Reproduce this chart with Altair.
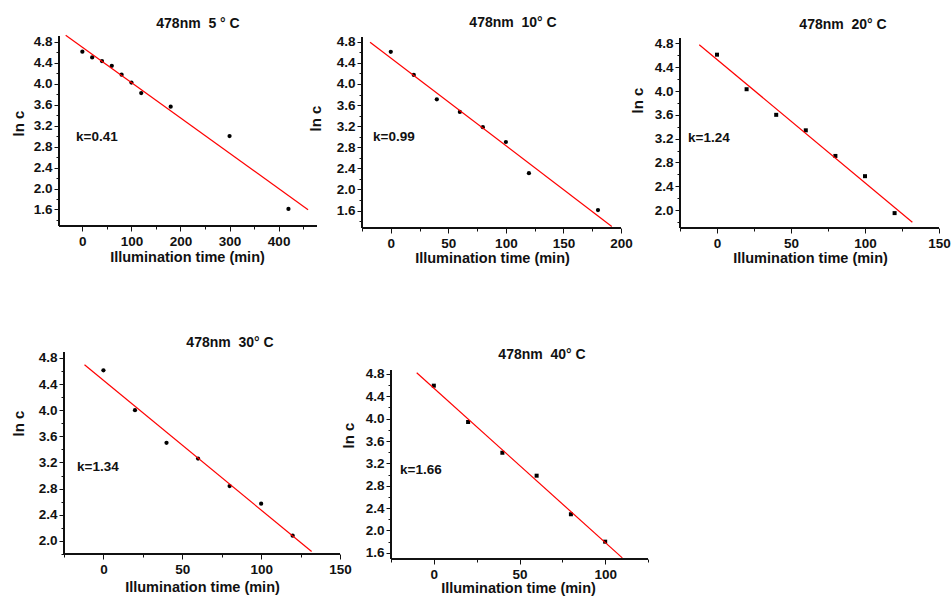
import math
import altair as alt
import pandas as pd

FONT = "Liberation Sans"
INK = "#111111"

# Illumination time (min) and ln c readings for each temperature
t_5c = [0, 20, 40, 60, 80, 100, 120, 180, 300, 420]
lnc_5c = [4.61, 4.50, 4.43, 4.34, 4.17, 4.02, 3.82, 3.56, 3.00, 1.61]

t_10c = [0, 20, 40, 60, 80, 100, 120, 180]
lnc_10c = [4.61, 4.17, 3.71, 3.47, 3.18, 2.90, 2.31, 1.61]

t_20c = [0, 20, 40, 60, 80, 100, 120]
lnc_20c = [4.61, 4.03, 3.60, 3.34, 2.91, 2.57, 1.95]

t_30c = [0, 20, 40, 60, 80, 100, 120]
lnc_30c = [4.61, 4.00, 3.50, 3.26, 2.84, 2.57, 2.08]

t_40c = [0, 20, 40, 60, 80, 100]
lnc_40c = [4.59, 3.94, 3.39, 2.98, 2.29, 1.80]

panel_titles = [
    "478nm\u00a0\u00a05 ° C",
    "478nm\u00a0\u00a010° C",
    "478nm\u00a0\u00a020° C",
    "478nm\u00a0\u00a030° C",
    "478nm\u00a0\u00a040° C",
]
k_labels = ["k=0.41", "k=0.99", "k=1.24", "k=1.34", "k=1.66"]

X_TITLE = "Illumination time (min)"
Y_TITLE = "ln c"

# Page origin of the first panel's plot area (grid origin)
ORIGIN = (59, 36)


def tick_values(lo, hi, step):
    """All tick positions (major and minor) inside [lo, hi]."""
    first = math.ceil(lo / step - 1e-6)
    last = math.floor(hi / step + 1e-6)
    return [round(i * step, 4) for i in range(first, last + 1)]


def panel(times, lnc, title, k_text, cfg):
    df = pd.DataFrame({"t": times, "lnc": lnc})
    L, T, R, B = cfg["box"]          # axis frame on the page
    cL, cT, cR, cB = cfg["cell"]     # plot cell on the page
    xr0, xr1 = cfg["xr"]
    yr0, yr1 = cfg["yr"]
    kx = (R - L) / (xr1 - xr0)
    ky = (B - T) / (yr1 - yr0)
    xdom = [xr0 - (L - cL) / kx, xr1 + (cR - R) / kx]
    ydom = [yr0 - (cB - B) / ky, yr1 + (T - cT) / ky]

    xmaj = cfg["xmajor"]
    x_major_test = f"round(datum.value) % {xmaj} == 0"
    y_major_test = "round(datum.value * 10) % 4 == 0"

    x_axis = alt.Axis(
        values=tick_values(xr0, xr1, xmaj / 2),
        tickCount=100,
        labelExpr=f"{x_major_test} ? format(datum.value, 'd') : ''",
        tickSize={"condition": {"test": x_major_test, "value": 5}, "value": 3},
        grid=False, domain=False,
        offset=-(cB - B),
        title=X_TITLE,
        labelFont=FONT, labelFontSize=13.5, labelFontWeight="bold", labelColor=INK,
        labelPadding=3, labelOverlap=False, labelFlush=False,
        titleFont=FONT, titleFontSize=14.5, titleFontWeight="bold", titleColor=INK,
        titleAlign="center", titleBaseline="middle",
        titleX=cfg["xtitle"][0] - cL, titleY=cfg["xtitle"][1] - B,
        tickColor=INK, tickWidth=1,
    )
    y_axis = alt.Axis(
        values=tick_values(yr0, yr1, 0.2),
        tickCount=100,
        labelExpr=f"{y_major_test} ? format(datum.value, '.1f') : ''",
        tickSize={"condition": {"test": y_major_test, "value": 5}, "value": 3},
        grid=False, domain=False,
        offset=-(L - cL),
        title=Y_TITLE,
        labelFont=FONT, labelFontSize=13.5, labelFontWeight="bold", labelColor=INK,
        labelPadding=2, labelOverlap=False, labelFlush=False,
        titleFont=FONT, titleFontSize=15, titleFontWeight="bold", titleColor=INK,
        titleAngle=270, titleAlign="center", titleBaseline="middle",
        titleX=cfg["ytitle"][0] - L, titleY=cfg["ytitle"][1] - cT,
        tickColor=INK, tickWidth=1,
    )
    x = alt.X("t:Q", scale=alt.Scale(domain=xdom, nice=False, zero=False), axis=x_axis)
    y = alt.Y("lnc:Q", scale=alt.Scale(domain=ydom, nice=False, zero=False), axis=y_axis)

    base = alt.Chart(df)
    # axis lines spanning the data frame only
    x_line = base.mark_rule(color=INK, strokeWidth=1.2).encode(
        x=alt.datum(xr0), x2=alt.datum(xr1), y=alt.datum(yr0)
    )
    y_line = base.mark_rule(color=INK, strokeWidth=1.2).encode(
        x=alt.datum(xr0), y=alt.datum(yr0), y2=alt.datum(yr1)
    )
    points = base.mark_point(
        filled=True, shape=cfg["shape"], size=cfg["size"], color="black", opacity=1
    ).encode(x=x, y=y)
    fit = base.transform_regression(
        "t", "lnc", method="linear", extent=cfg["extent"]
    ).mark_line(color="#ff0000", strokeWidth=1.2).encode(x=x, y=y)
    k_mark = alt.Chart(pd.DataFrame({"label": [k_text]})).mark_text(
        align="left", baseline="middle", font=FONT, fontSize=13.5,
        fontWeight="bold", color=INK,
    ).encode(
        text="label:N",
        x=alt.value(cfg["kpos"][0] - cL),
        y=alt.value(cfg["kpos"][1] - cT),
    )

    return alt.layer(points, fit, x_line, y_line, k_mark).properties(
        width=cR - cL, height=cB - cT,
        title=alt.TitleParams(
            title, font=FONT, fontSize=14, fontWeight="bold", color=INK,
            anchor="middle", frame="group", baseline="middle",
            dx=cfg["title"][0] - (cL + cR) / 2, offset=cfg["title_off"],
        ),
    )


cfg_5 = dict(box=(59, 36, 317, 226), cell=(59, 36, 317, 226),
             xr=[-47.6, 478.2], yr=[1.285, 4.909], xmajor=100,
             extent=[-34, 460], shape="circle", size=18,
             title=(198, 23), title_off=-5, ytitle=(18, 123), xtitle=(187, 257),
             kpos=(76, 137))
cfg_10 = dict(box=(362, 37, 621, 228), cell=(362, 36, 658, 228),
              xr=[-25, 200], yr=[1.27, 4.89], xmajor=50,
              extent=[-18, 192], shape="circle", size=18,
              title=(513, 23), title_off=-2, ytitle=(315, 118), xtitle=(492, 258),
              kpos=(373, 137))
cfg_20 = dict(box=(680, 38, 939, 228), cell=(680, 36, 939, 228),
              xr=[-25, 150], yr=[1.70, 4.89], xmajor=50,
              extent=[-12, 132], shape="square", size=16,
              title=(843, 24), title_off=-3, ytitle=(637, 100), xtitle=(810, 258),
              kpos=(688, 138))
cfg_30 = dict(box=(64, 352, 340, 554), cell=(59, 352, 340, 554),
              xr=[-25, 150], yr=[1.80, 4.89], xmajor=50,
              extent=[-12, 132], shape="circle", size=18,
              title=(230, 342), title_off=-6, ytitle=(18, 423), xtitle=(202, 587),
              kpos=(77, 467))
cfg_40 = dict(box=(391, 370, 648, 559), cell=(362, 352, 648, 559),
              xr=[-25, 125], yr=[1.49, 4.87], xmajor=50,
              extent=[-10, 110], shape="square", size=16,
              title=(542, 354), title_off=-17, ytitle=(348, 435), xtitle=(518, 588),
              kpos=(400, 470))

panels = [
    panel(t_5c, lnc_5c, panel_titles[0], k_labels[0], cfg_5),
    panel(t_10c, lnc_10c, panel_titles[1], k_labels[1], cfg_10),
    panel(t_20c, lnc_20c, panel_titles[2], k_labels[2], cfg_20),
    panel(t_30c, lnc_30c, panel_titles[3], k_labels[3], cfg_30),
    panel(t_40c, lnc_40c, panel_titles[4], k_labels[4], cfg_40),
]

chart = alt.concat(
    *panels, columns=3, bounds="flush", align="none",
    spacing={"row": 124, "column": 22},
).properties(
    autosize=alt.AutoSizeParams(type="none"),
    padding={"left": ORIGIN[0], "top": ORIGIN[1],
             "right": 952 - ORIGIN[0], "bottom": 598 - ORIGIN[1]},
    background="white",
).configure_view(stroke=None)

chart.save("out.html", embed_options={"renderer": "svg", "actions": False})
